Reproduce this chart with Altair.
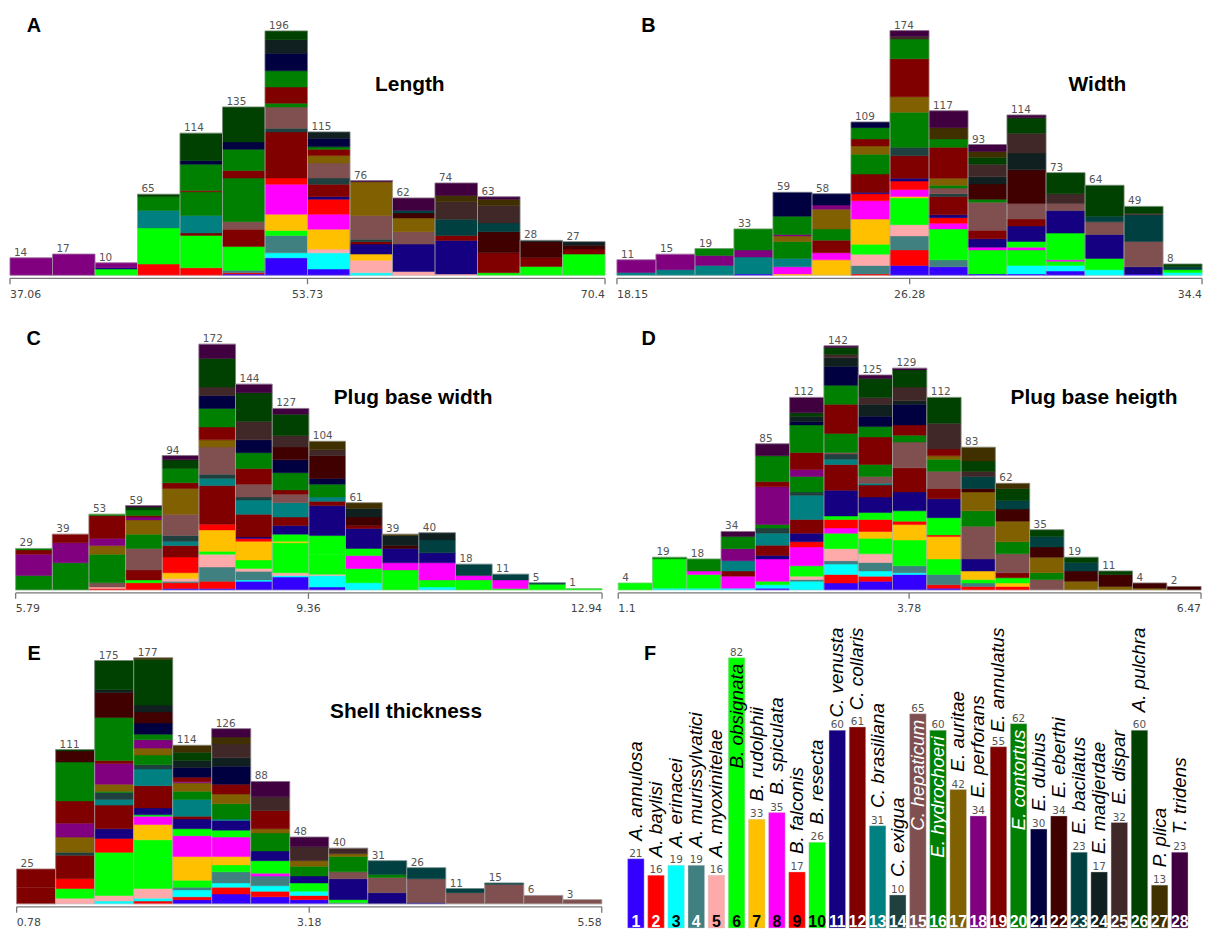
import altair as alt
import pandas as pd

# ---------------- species (panel F) ----------------
SPECIES = ["A. annulosa", "A. baylisi", "A. erinacei", "A. murissylvatici", "A. myoxinitelae",
           "B. obsignata", "B. rudolphii", "B. spiculata", "B. falconis", "B. resecta",
           "C. venusta", "C. collaris", "C. brasiliana", "C. exigua", "C. hepaticum",
           "E. hydrochoeri", "E. auritae", "E. perforans", "E. annulatus", "E. contortus",
           "E. dubius", "E. eberthi", "E. bacilatus", "E. madjerdae", "E. dispar",
           "A. pulchra", "P. plica", "T. tridens"]
SPECIES_COUNTS = [21, 16, 19, 19, 16, 82, 33, 35, 17, 26, 60, 61, 31, 10, 65,
                  60, 42, 34, 55, 62, 30, 34, 23, 17, 32, 60, 13, 23]
SPECIES_COLORS = ["#3300FF", "#FF0000", "#00FFFF", "#408080", "#FFAAAA",
                  "#00FF00", "#FFC000", "#FF00FF", "#FF0000", "#00FF00",
                  "#140080", "#800000", "#008080", "#204040", "#805050",
                  "#008000", "#806000", "#800080", "#800000", "#008000",
                  "#000040", "#400000", "#004040", "#102020", "#402828",
                  "#004000", "#403000", "#400040"]
DARK_TEXT = [3, 5, 6, 7, 8, 9, 10]

# ---------------- A: Length ----------------
LENGTH_TICKS = [37.06, 53.73, 70.4]
LENGTH_TOTALS = [14, 17, 10, 65, 114, 135, 196, 115, 76, 62, 74, 63, 28, 27]
LENGTH_BINS = [
    [(18, 14)],
    [(18, 17)],
    [(6, 5), (11, 1), (18, 4)],
    [(2, 9), (6, 29), (13, 14), (16, 11), (26, 2)],
    [(2, 6), (6, 26), (12, 2), (13, 14), (16, 19), (19, 1), (20, 21), (21, 3), (26, 22)],
    [(1, 1), (2, 1), (4, 2), (6, 19), (12, 14), (15, 6), (16, 35), (19, 6), (20, 17), (21, 6), (26, 28)],
    [(1, 14), (3, 4), (4, 14), (6, 4), (7, 13), (8, 24), (9, 5), (12, 37), (14, 3), (15, 17), (16, 3),
     (19, 13), (20, 13), (21, 14), (24, 11), (26, 7)],
    [(1, 5), (3, 13), (5, 3), (7, 16), (8, 12), (9, 12), (11, 2), (12, 10), (14, 5), (15, 12), (17, 6),
     (19, 5), (20, 2), (21, 7), (24, 5)],
    [(3, 2), (5, 10), (7, 5), (11, 8), (12, 2), (14, 2), (15, 19), (17, 27), (28, 1)],
    [(5, 3), (11, 22), (15, 10), (17, 11), (22, 4), (23, 2), (28, 10)],
    [(5, 1), (11, 27), (12, 4), (23, 13), (25, 14), (27, 5), (28, 10)],
    [(6, 2), (12, 16), (22, 17), (23, 7), (25, 14), (27, 5), (28, 2)],
    [(6, 7), (12, 7), (22, 13), (24, 1)],
    [(10, 17), (12, 4), (22, 3), (24, 3)],
]

# ---------------- B: Width ----------------
WIDTH_TICKS = [18.15, 26.28, 34.4]
WIDTH_TOTALS = [11, 15, 19, 33, 59, 58, 109, 174, 117, 93, 114, 73, 64, 49, 8]
WIDTH_BINS = [
    [(13, 2), (18, 9)],
    [(13, 4), (18, 11)],
    [(13, 7), (18, 7), (20, 5)],
    [(1, 1), (13, 12), (18, 5), (20, 15)],
    [(7, 1), (8, 5), (13, 6), (16, 12), (17, 4), (18, 1), (20, 13), (21, 17)],
    [(7, 11), (8, 5), (12, 9), (16, 8), (17, 14), (18, 3), (21, 8)],
    [(2, 1), (4, 6), (5, 8), (6, 7), (7, 18), (8, 13), (9, 5), (11, 1), (12, 13), (16, 14), (17, 6),
     (19, 5), (20, 8), (21, 4)],
    [(1, 7), (2, 11), (4, 10), (5, 8), (6, 19), (7, 1), (8, 5), (9, 6), (11, 2), (12, 16), (14, 6),
     (16, 25), (17, 11), (19, 27), (20, 14), (25, 2), (28, 4)],
    [(1, 6), (4, 5), (6, 22), (8, 4), (9, 4), (11, 2), (12, 13), (14, 2), (15, 4), (16, 2), (17, 5),
     (19, 22), (20, 6), (27, 8), (28, 12)],
    [(1, 1), (6, 17), (8, 2), (11, 6), (12, 6), (15, 20), (16, 2), (22, 11), (24, 5), (25, 9), (26, 5),
     (27, 4), (28, 5)],
    [(1, 1), (3, 6), (6, 11), (8, 2), (10, 4), (11, 11), (12, 5), (15, 11), (22, 24), (24, 12), (25, 14),
     (26, 11), (28, 2)],
    [(1, 3), (3, 4), (6, 3), (8, 1), (10, 19), (11, 16), (15, 5), (25, 7), (26, 15)],
    [(3, 4), (10, 8), (11, 17), (15, 9), (23, 4), (26, 22)],
    [(1, 1), (11, 5), (15, 18), (23, 19), (25, 1), (26, 5)],
    [(3, 2), (10, 2), (23, 2), (26, 2)],
]

# ---------------- C: Plug base width ----------------
PBW_TICKS = [5.79, 9.36, 12.94]
PBW_TOTALS = [29, 39, 53, 59, 94, 172, 144, 127, 104, 61, 39, 40, 18, 11, 5, 1]
PBW_BINS = [
    [(16, 10), (18, 15), (19, 3), (20, 1)],
    [(16, 19), (18, 14), (19, 6)],
    [(2, 1), (5, 1), (15, 3), (16, 20), (17, 6), (18, 5), (19, 16), (20, 1)],
    [(2, 5), (6, 2), (12, 7), (15, 15), (16, 10), (17, 10), (18, 2), (19, 1), (20, 4), (26, 2), (28, 1)],
    [(1, 1), (2, 4), (4, 1), (5, 2), (7, 4), (9, 11), (12, 8), (13, 3), (14, 4), (15, 15), (17, 18),
     (19, 4), (20, 10), (26, 6), (28, 3)],
    [(1, 1), (2, 5), (4, 10), (5, 9), (6, 2), (7, 15), (9, 4), (12, 27), (13, 5), (14, 3), (15, 19),
     (17, 5), (19, 9), (20, 13), (21, 9), (25, 6), (26, 20), (28, 10)],
    [(1, 6), (3, 1), (4, 6), (5, 2), (6, 6), (7, 13), (9, 2), (11, 1), (12, 16), (13, 10), (14, 2),
     (15, 9), (19, 11), (20, 11), (21, 9), (25, 13), (26, 20), (28, 6)],
    [(1, 9), (3, 1), (5, 2), (6, 21), (7, 1), (10, 5), (11, 6), (12, 6), (13, 10), (15, 6), (19, 3),
     (20, 12), (21, 9), (22, 9), (25, 8), (26, 15), (28, 4)],
    [(1, 2), (3, 8), (5, 1), (6, 14), (10, 13), (11, 21), (12, 3), (13, 3), (20, 9), (21, 4), (22, 16),
     (25, 4), (27, 6)],
    [(3, 5), (6, 10), (8, 9), (10, 5), (11, 14), (12, 2), (22, 6), (24, 6), (27, 4)],
    [(6, 14), (8, 5), (11, 10), (22, 2), (24, 7), (27, 1)],
    [(3, 2), (6, 5), (8, 12), (11, 7), (23, 9), (24, 5)],
    [(6, 7), (8, 3), (23, 8)],
    [(6, 1), (8, 6), (23, 4)],
    [(6, 4), (23, 1)],
    [(6, 1)],
]

# ---------------- D: Plug base heigth ----------------
PBH_TICKS = [1.1, 3.78, 6.47]
PBH_TOTALS = [4, 19, 18, 34, 85, 112, 142, 125, 129, 112, 83, 62, 35, 19, 11, 4, 2]
PBH_BINS = [
    [(6, 4)],
    [(3, 1), (6, 17), (16, 1)],
    [(3, 1), (6, 8), (8, 2), (16, 7)],
    [(3, 1), (8, 7), (12, 3), (13, 6), (18, 7), (20, 7), (28, 3)],
    [(1, 1), (3, 2), (6, 2), (8, 13), (11, 2), (12, 6), (13, 7), (14, 3), (16, 2), (18, 22), (19, 3),
     (20, 15), (28, 7)],
    [(3, 5), (4, 1), (5, 2), (6, 6), (8, 11), (9, 3), (11, 5), (12, 8), (13, 14), (14, 2), (16, 9),
     (18, 4), (19, 10), (20, 16), (21, 2), (24, 3), (26, 2), (28, 9)],
    [(1, 4), (2, 5), (3, 6), (4, 2), (5, 7), (6, 9), (8, 3), (9, 5), (10, 2), (11, 15), (12, 15),
     (13, 3), (14, 3), (15, 1), (16, 11), (19, 17), (20, 11), (21, 11), (24, 5), (25, 2), (26, 4), (28, 1)],
    [(1, 5), (2, 3), (3, 3), (4, 5), (5, 5), (6, 9), (7, 4), (9, 7), (10, 4), (11, 9), (12, 7), (13, 1),
     (15, 4), (16, 7), (19, 16), (20, 6), (21, 6), (24, 7), (25, 4), (26, 11), (28, 2)],
    [(1, 9), (3, 1), (4, 4), (6, 15), (7, 9), (9, 2), (10, 6), (11, 11), (12, 14), (15, 15), (16, 4),
     (19, 6), (21, 12), (24, 2), (25, 8), (26, 10), (28, 1)],
    [(1, 1), (2, 2), (4, 6), (6, 9), (7, 13), (9, 1), (10, 10), (11, 11), (12, 6), (15, 10), (16, 7),
     (17, 2), (19, 4), (25, 15), (26, 15)],
    [(2, 2), (4, 2), (6, 2), (7, 5), (11, 7), (15, 19), (16, 9), (17, 11), (22, 2), (23, 7), (25, 3),
     (26, 6), (27, 8)],
    [(2, 2), (7, 2), (10, 3), (12, 3), (15, 11), (16, 7), (17, 12), (22, 7), (23, 5), (26, 7), (27, 3)],
    [(15, 6), (16, 4), (17, 9), (22, 6), (23, 6), (26, 4)],
    [(17, 5), (22, 6), (23, 5), (26, 3)],
    [(17, 2), (22, 7), (26, 2)],
    [(17, 1), (22, 3)],
    [(22, 2)],
]

# ---------------- E: Shell thickness ----------------
SHELL_TICKS = [0.78, 3.18, 5.58]
SHELL_TOTALS = [25, 111, 175, 177, 114, 126, 88, 48, 40, 31, 26, 11, 15, 6, 3]
SHELL_BINS = [
    [(12, 12), (19, 13)],
    [(5, 4), (6, 7), (9, 7), (12, 17), (14, 2), (17, 11), (18, 10), (19, 16), (20, 28), (22, 8), (26, 1)],
    [(3, 2), (5, 4), (6, 31), (9, 10), (11, 7), (12, 17), (13, 4), (14, 5), (16, 1), (17, 5), (18, 15),
     (19, 2), (20, 31), (22, 18), (24, 2), (26, 21)],
    [(2, 2), (3, 2), (5, 7), (6, 35), (7, 11), (8, 6), (10, 1), (11, 5), (12, 16), (13, 12), (14, 3),
     (16, 7), (17, 5), (18, 6), (20, 4), (21, 8), (22, 8), (24, 5), (26, 33), (27, 1)],
    [(1, 3), (2, 2), (3, 5), (4, 2), (6, 5), (7, 17), (8, 15), (10, 5), (11, 7), (12, 2), (13, 12),
     (16, 6), (17, 6), (18, 1), (19, 3), (21, 7), (24, 5), (26, 6), (27, 5)],
    [(1, 7), (2, 5), (3, 3), (4, 8), (6, 5), (7, 6), (8, 14), (10, 5), (11, 7), (13, 1), (16, 11),
     (17, 7), (19, 7), (21, 13), (24, 6), (25, 10), (27, 5), (28, 6)],
    [(1, 5), (2, 4), (3, 4), (4, 7), (8, 2), (10, 9), (11, 7), (16, 13), (17, 3), (19, 13), (25, 10), (28, 11)],
    [(1, 3), (2, 3), (3, 3), (10, 6), (11, 5), (16, 7), (17, 4), (25, 10), (28, 7)],
    [(4, 1), (6, 2), (11, 15), (15, 5), (16, 11), (17, 2), (25, 4)],
    [(11, 8), (15, 11), (16, 2), (23, 10)],
    [(11, 1), (15, 17), (23, 8)],
    [(15, 8), (23, 3)],
    [(15, 14), (23, 1)],
    [(15, 6)],
    [(15, 3)],
]

# ---------------- layout (pixels, chart coordinates) ----------------
W, H = 1209, 923
PANELS = [
    dict(letter="A", title="Length", ticks=LENGTH_TICKS, totals=LENGTH_TOTALS, bins=LENGTH_BINS,
         xr=[2, 601], yr=[266, 20], letter_xy=(19, 21), title_xy=(404.5, 80)),
    dict(letter="B", title="Width", ticks=WIDTH_TICKS, totals=WIDTH_TOTALS, bins=WIDTH_BINS,
         xr=[613, 1202], yr=[266, 19.7], letter_xy=(637.5, 21), title_xy=(1096.7, 80)),
    dict(letter="C", title="Plug base width", ticks=PBW_TICKS, totals=PBW_TOTALS, bins=PBW_BINS,
         xr=[7.7, 598], yr=[582.7, 335.3], letter_xy=(18.7, 336.3), title_xy=(407.8, 395.3)),
    dict(letter="D", title="Plug base heigth", ticks=PBH_TICKS, totals=PBH_TOTALS, bins=PBH_BINS,
         xr=[614.3, 1201], yr=[582.7, 337], letter_xy=(637.7, 336.3), title_xy=(1093.3, 395.3)),
    dict(letter="E", title="Shell thickness", ticks=SHELL_TICKS, totals=SHELL_TOTALS, bins=SHELL_BINS,
         xr=[8.7, 597.7], yr=[898.7, 651], letter_xy=(19.7, 653), title_xy=(400.7, 712)),
]
F_X_RANGE = [621.9, 1189.7]
F_Y_RANGE = [923, 651]
F_LETTER_XY = (640.3, 653)
LABEL_TOP_LIMIT = 620.5   # pixel y above which species names may not reach
SMALL_FONT = "DejaVu Sans"
BIG_FONT = "Liberation Sans"
GREY = "#555555"

color_scale = alt.Scale(domain=SPECIES, range=SPECIES_COLORS)


def hist_panel(p):
    ticks, totals, bins = p["ticks"], p["totals"], p["bins"]
    lo, hi = ticks[0], ticks[-1]
    n = len(totals)
    w = (hi - lo) / n
    seg = pd.DataFrame([dict(b=i, x0=lo + i * w, x1=lo + (i + 1) * w, sp=SPECIES[s - 1], idx=s, n=c)
                        for i, segs in enumerate(bins) for s, c in segs])
    tot = pd.DataFrame(dict(x0=[lo + i * w for i in range(n)], x1=[lo + (i + 1) * w for i in range(n)],
                            total=totals, z=0))
    axis_df = pd.DataFrame(dict(v=ticks, k=[0, 1, 2], lab=[str(t) for t in ticks], z=[0, 0, 0]))
    dom_df = pd.DataFrame(dict(a=[lo], b=[hi], z=[0]))
    xs = alt.Scale(domain=[lo, hi], range=p["xr"], nice=False, zero=False)
    ys = alt.Scale(domain=[0, max(totals)], range=p["yr"], nice=False, zero=True)

    def X(f):
        return alt.X(f, scale=xs, axis=None)

    def Y(f):
        return alt.Y(f, scale=ys, axis=None)

    bars = alt.Chart(seg).transform_stack(
        stack="n", groupby=["b"], sort=[alt.SortField("idx", order="ascending")], as_=["y0", "y1"]
    ).mark_bar(strokeWidth=0.5).encode(
        x=X("x0:Q"), x2="x1:Q", y=Y("y0:Q"), y2="y1:Q",
        color=alt.Color("sp:N", scale=color_scale, legend=None),
        stroke=alt.Stroke("sp:N", scale=color_scale, legend=None),
    )
    outline = alt.Chart(tot).mark_bar(fill=None, stroke="#b0b0b0", strokeWidth=0.6, strokeOpacity=0.8).encode(
        x=X("x0:Q"), x2="x1:Q", y=Y("z:Q"), y2="total:Q")
    labels = alt.Chart(tot).mark_text(
        align="left", baseline="alphabetic", dx=4, dy=-2, fontSize=10.5, font=SMALL_FONT, color=GREY
    ).encode(x=X("x0:Q"), y=Y("total:Q"), text="total:Q")
    dom = alt.Chart(dom_df).mark_rule(color="#777777", strokeWidth=1.3, yOffset=3).encode(
        x=X("a:Q"), x2="b:Q", y=Y("z:Q"))
    tk = alt.Chart(axis_df).mark_rule(color="#777777", strokeWidth=1.3, yOffset=3, y2Offset=9).encode(
        x=X("v:Q"), y=Y("z:Q"), y2="z:Q")
    tlabs = []
    for k, al in enumerate(["left", "center", "right"]):
        tlabs.append(alt.Chart(axis_df).transform_filter(f"datum.k == {k}").mark_text(
            align=al, baseline="alphabetic", dy=22.5, fontSize=11, font=SMALL_FONT, color="#444444"
        ).encode(x=X("v:Q"), y=Y("z:Q"), text="lab:N"))
    return alt.layer(bars, outline, labels, dom, tk, *tlabs)


def text_at(txt, xy, **kw):
    return alt.Chart(pd.DataFrame(dict(t=[txt]))).mark_text(**kw).encode(
        x=alt.value(xy[0]), y=alt.value(xy[1]), text="t:N")


# ---------------- panel F ----------------
px_per = (F_Y_RANGE[0] - F_Y_RANGE[1]) / max(SPECIES_COUNTS)
top_v = (F_Y_RANGE[0] - LABEL_TOP_LIMIT) / px_per
modes, laby = [], []
for name, c in zip(SPECIES, SPECIES_COUNTS):
    est_len = 8.93 * len(name)
    bar_top = F_Y_RANGE[0] - c * px_per
    if bar_top - 18 - est_len >= LABEL_TOP_LIMIT:
        modes.append("above"); laby.append(c)
    elif LABEL_TOP_LIMIT + est_len <= bar_top:
        modes.append("clamp"); laby.append(top_v)
    else:
        modes.append("inside"); laby.append(c)

fdf = pd.DataFrame(dict(sp=SPECIES, idx=list(range(1, len(SPECIES) + 1)), n=SPECIES_COUNTS,
                        z=0, mode=modes, laby=laby))
fx = alt.Scale(domain=SPECIES, range=F_X_RANGE, paddingInner=0.18, paddingOuter=0.09)
fy = alt.Scale(domain=[0, max(SPECIES_COUNTS)], range=F_Y_RANGE, nice=False, zero=True)
FX = alt.X("sp:N", scale=fx, axis=None, sort=SPECIES)
idx_color = alt.condition(alt.FieldOneOfPredicate(field="idx", oneOf=DARK_TEXT),
                          alt.value("black"), alt.value("white"))

fbars = alt.Chart(fdf).mark_bar(stroke="#c8c8c8", strokeWidth=0.6, strokeOpacity=0.7).encode(
    x=FX, y=alt.Y("n:Q", scale=fy, axis=None),
    color=alt.Color("sp:N", scale=color_scale, legend=None))
fcounts = alt.Chart(fdf).mark_text(baseline="alphabetic", dy=-2, fontSize=10.5, font=SMALL_FONT,
                                   color=GREY).encode(
    x=FX, y=alt.Y("n:Q", scale=fy, axis=None), text="n:Q")
fidx = alt.Chart(fdf).mark_text(baseline="alphabetic", dy=-1, fontSize=16, font=BIG_FONT,
                                fontWeight="bold").encode(
    x=FX, y=alt.Y("z:Q", scale=fy, axis=None), text="idx:Q", color=idx_color)
name_kw = dict(angle=270, baseline="middle", font=BIG_FONT, fontStyle="italic", fontSize=19)
fabove = alt.Chart(fdf).transform_filter("datum.mode == 'above'").mark_text(
    align="left", dx=18, color="black", **name_kw).encode(
    x=FX, y=alt.Y("laby:Q", scale=fy, axis=None), text="sp:N")
fclamp = alt.Chart(fdf).transform_filter("datum.mode == 'clamp'").mark_text(
    align="right", dx=0, color="black", **name_kw).encode(
    x=FX, y=alt.Y("laby:Q", scale=fy, axis=None), text="sp:N")
finside = alt.Chart(fdf).transform_filter("datum.mode == 'inside'").mark_text(
    align="right", dx=-6, **name_kw).encode(
    x=FX, y=alt.Y("laby:Q", scale=fy, axis=None), text="sp:N", color=idx_color)
panel_f = alt.layer(fbars, fcounts, fidx, fabove, fclamp, finside)

# ---------------- annotations ----------------
notes = []
for p in PANELS:
    notes.append(text_at(p["letter"], p["letter_xy"], align="left", baseline="alphabetic",
                         font=BIG_FONT, fontWeight="bold", fontSize=20, color="black"))
    notes.append(text_at(p["title"], p["title_xy"], align="center", baseline="alphabetic",
                         font=BIG_FONT, fontWeight="bold", fontSize=21, color="black"))
notes.append(text_at("F", F_LETTER_XY, align="left", baseline="alphabetic",
                     font=BIG_FONT, fontWeight="bold", fontSize=20, color="black"))

chart = alt.layer(*[hist_panel(p) for p in PANELS], panel_f, *notes).resolve_scale(
    x="independent", y="independent"
).properties(
    width=W, height=H, padding=0, autosize=alt.AutoSizeParams(type="none")
).configure_view(stroke=None)

chart.save("out.html", embed_options={"renderer": "svg", "actions": False})
